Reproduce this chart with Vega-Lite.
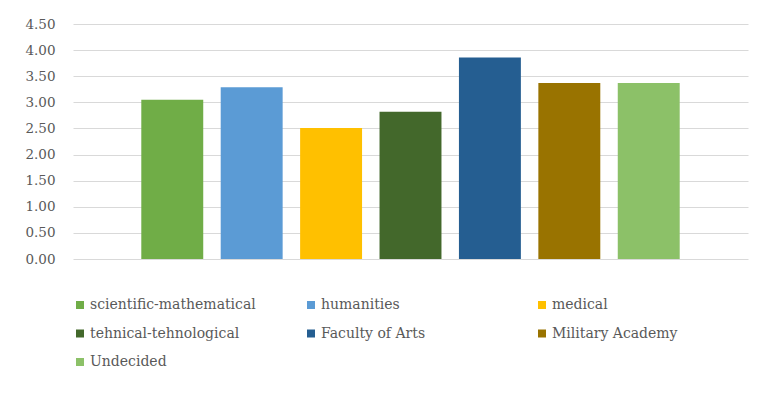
{
  "$schema": "https://vega.github.io/schema/vega-lite/v6.json",
  "width": 675,
  "height": 235,
  "autosize": "none",
  "padding": {"left": 73, "top": 24, "right": 10, "bottom": 138},
  "background": "white",
  "config": {
    "view": {"stroke": null},
    "font": "DejaVu Serif"
  },
  "data": {
    "values": [
      {"field": "scientific-mathematical", "score": 3.05},
      {"field": "humanities", "score": 3.29},
      {"field": "medical", "score": 2.51},
      {"field": "tehnical-tehnological", "score": 2.82},
      {"field": "Faculty of Arts", "score": 3.86},
      {"field": "Military Academy", "score": 3.37},
      {"field": "Undecided", "score": 3.37}
    ]
  },
  "mark": {"type": "bar"},
  "encoding": {
    "x": {
      "field": "field",
      "type": "nominal",
      "sort": null,
      "scale": {"paddingInner": 0.22, "paddingOuter": 0.86},
      "axis": null
    },
    "y": {
      "field": "score",
      "type": "quantitative",
      "scale": {"domain": [0, 4.5], "nice": false},
      "axis": {
        "title": null,
        "values": [0, 0.5, 1, 1.5, 2, 2.5, 3, 3.5, 4, 4.5],
        "format": ".2f",
        "domain": false,
        "ticks": false,
        "labelPadding": 18,
        "labelFont": "DejaVu Serif",
        "labelFontSize": 13.5,
        "labelColor": "#595959",
        "gridColor": "#D9D9D9",
        "gridWidth": 1.2
      }
    },
    "color": {
      "field": "field",
      "type": "nominal",
      "sort": null,
      "scale": {
        "domain": ["scientific-mathematical", "humanities", "medical", "tehnical-tehnological", "Faculty of Arts", "Military Academy", "Undecided"],
        "range": ["#70AD47", "#5B9BD5", "#FFC000", "#43682B", "#255E91", "#997300", "#8CC168"]
      },
      "legend": {
        "title": null,
        "orient": "none",
        "legendX": 0,
        "legendY": 274,
        "direction": "horizontal",
        "columns": 3,
        "gridAlign": "all",
        "columnPadding": 48,
        "rowPadding": 14.5,
        "padding": 0,
        "symbolType": "square",
        "symbolSize": 64,
        "symbolStrokeWidth": 0,
        "labelOffset": 3,
        "labelFont": "DejaVu Serif",
        "labelFontSize": 14,
        "labelColor": "#595959",
        "labelLimit": 300
      }
    }
  }
}
